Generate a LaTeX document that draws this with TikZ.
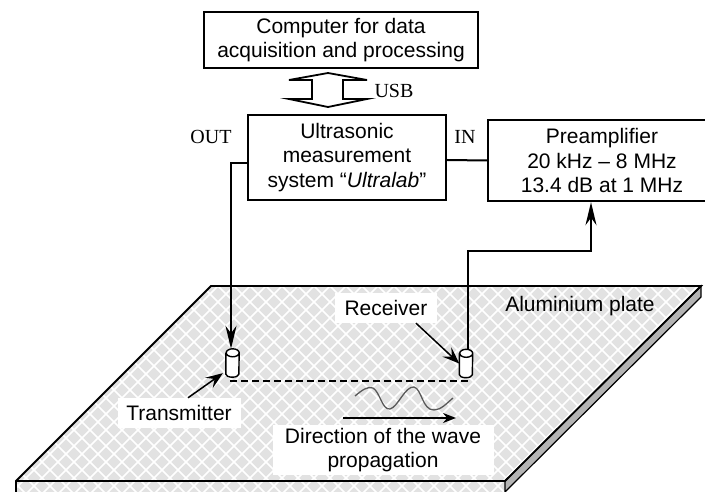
\documentclass[tikz,border=0pt]{standalone}
\usepackage{fontspec}
\setmainfont{Liberation Sans}
\newfontfamily\labelserif{Liberation Serif}
\usetikzlibrary{arrows.meta}
\definecolor{platefill}{HTML}{E2E2E2}
\definecolor{plateside}{HTML}{B4B4B4}
\tikzset{
  blockbox/.style={draw, line width=2.4pt, fill=white, align=center, font=\fontsize{21}{24.5}\selectfont, inner sep=0pt},
  sigline/.style={line width=2pt, -{Stealth[length=23pt, width=11pt]}},
  pointer/.style={line width=1.5pt, -{Stealth[length=17pt, width=13pt, inset=7pt]}},
  patch/.style={fill=white, align=center, inner sep=0pt, font=\fontsize{21}{24}\selectfont},
  portlabel/.style={font=\labelserif\fontsize{20}{24}\selectfont, inner sep=0pt},
  sensor/.style={minimum width=13pt, minimum height=28pt, inner sep=0pt}
}
\begin{document}
\begin{tikzpicture}[x=1pt, y=-1pt]
    \useasboundingbox (0, 0) rectangle (705, 492);

    % plate
    \fill[platefill] (211, 286) -- (701, 286) -- (505, 481) -- (16, 481) -- cycle;
    \fill[platefill] (16, 481) rectangle (505, 492);
    \begin{scope}
      \clip (211, 286) -- (701, 286) -- (505, 481) -- (16, 481) -- cycle (16, 481) rectangle (505, 492);
      \foreach \i in {0, ..., 62} {
        \draw[white, line width=1.7pt] ({\i*16}, 280) -- ++(-220, 220);
        \draw[white, line width=1.7pt] ({\i*16-300}, 280) -- ++(220, 220);
      }
    \end{scope}
    \draw[fill=plateside, line width=1.2pt] (701, 286) -- (701, 297) -- (505, 492) -- (505, 481) -- cycle;
    \draw[line width=1.8pt] (16, 492) -- (16, 481) -- (211, 286) -- (701, 286) -- (505, 481) -- (16, 481);

    % boxes
    \node[blockbox, minimum width=274pt, minimum height=56pt] (computer) at (341, 40) {Computer for data\\acquisition and processing};
    \node[blockbox, minimum width=198pt, minimum height=85pt] (ultralab) at (347, 157.5) {Ultrasonic\\measurement\\system ``\textit{Ultralab}''};
    \node[blockbox, minimum width=228pt, minimum height=81pt] (preamp) at (602, 160.5) {Preamplifier\\20 kHz -- 8 MHz\\13.4 dB at 1 MHz};

    % USB arrow
    \draw[line width=1.8pt, fill=white] (328, 73) -- (367, 80) -- (343, 80) -- (343, 99) -- (367, 99)
      -- (328, 107) -- (289, 99) -- (312, 99) -- (312, 80) -- (289, 80) -- cycle;
    \node[portlabel] (usb) at (394, 91) {USB};
    \node[portlabel] (out) at (211, 137) {OUT};
    \node[portlabel] (in) at (465, 137) {IN};

    % sensors
    \node[sensor] (transmitter) at (232.5, 363) {};
    \node[sensor] (receiver) at (466, 363.5) {};
    \foreach \s in {transmitter, receiver} {
      \draw[fill=white, line width=1.4pt] ([yshift=-4pt]\s.north west) -- ([yshift=3pt]\s.south west)
        arc[start angle=180, end angle=360, x radius=6.5pt, y radius=3pt]
        -- ([yshift=-4pt]\s.north east)
        arc[start angle=0, end angle=180, x radius=6.5pt, y radius=4pt]
        arc[start angle=180, end angle=360, x radius=6.5pt, y radius=4pt];
    }

    % text on the plate
    \node[patch, minimum width=123pt, minimum height=30pt] (txlabel) at (179, 413) {Transmitter};
    \node[patch, minimum width=102pt, minimum height=30pt] (rxlabel) at (386, 308) {Receiver};
    \node[patch, minimum width=221pt, minimum height=50pt] (dirlabel) at (383, 450) {Direction of the wave\\propagation};
    \node[font=\fontsize{21}{24}\selectfont, inner sep=0pt] (platelabel) at (580, 306) {Aluminium plate};

    % connections
    \coordinate (bend) at (591, 251);
    \coordinate (dashstart) at (230, 381);
    \coordinate (dashend) at (468, 381);
    \draw[line width=2pt] ([yshift=-2.5pt]ultralab.east) -- (preamp.west);
    \draw[sigline] ([yshift=-5.5pt]ultralab.west) -| ([xshift=-1.5pt]transmitter.north);
    \draw[sigline] ([xshift=2pt]receiver.north) |- (bend) -- ([xshift=-11pt]preamp.south);
    \draw[line width=1.8pt, dash pattern=on 7pt off 4pt] (dashstart) -- (dashend);
    \draw[pointer] (txlabel.north) ++(9, 0) -- ([xshift=-3pt, yshift=4pt]transmitter.south west);
    \draw[pointer] (rxlabel.south) ++(30, 0) -- (receiver.west);

    % wave and its direction
    \coordinate (arrowstart) at (343, 418);
    \coordinate (arrowend) at (456, 418);
    \draw[black!65, line width=1.3pt] (355, 396) .. controls (362, 390) and (368, 386) .. (373, 388)
      .. controls (380, 392) and (382, 410) .. (390, 409)
      .. controls (398, 407) and (405, 386) .. (414, 387)
      .. controls (422, 389) and (422, 410) .. (434, 410)
      .. controls (441, 410) and (447, 403) .. (453, 398);
    \draw[line width=1.5pt, -{Stealth[length=13pt, width=10pt]}] (arrowstart) -- (arrowend);
\end{tikzpicture}
\end{document}
